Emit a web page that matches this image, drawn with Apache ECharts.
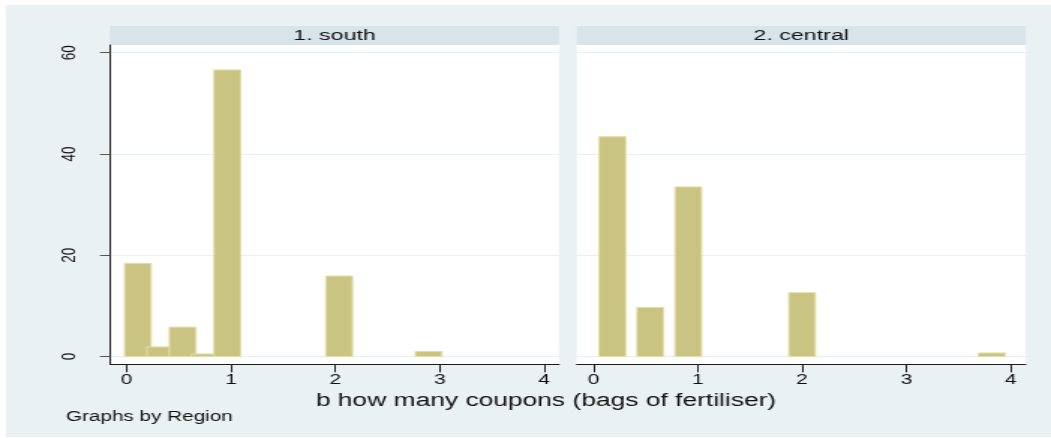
<!DOCTYPE html>
<html>
<head>
<meta charset="utf-8">
<script src="https://cdn.jsdelivr.net/npm/echarts@6/dist/echarts.min.js"></script>
<style>
  html, body { margin: 0; padding: 0; background: #fff; overflow: hidden; width: 1051px; height: 438px; }
  #wrap { width: 1051px; height: 438px; overflow: hidden; }
  /* The graph is laid out at a narrower width and stretched horizontally,
     which gives the wide lettering of the exported figure. */
  #chart { width: 701px; height: 438px; transform: scaleX(1.49929); transform-origin: 0 0; }
</style>
</head>
<body>
<div id="wrap"><div id="chart"></div></div>
<script>
// Panel titles (by Region)
const panelTitles = ['1. south', '2. central'];

// Histogram bins: midpoints (bags of fertiliser) and percent of households
const southMid = [0.107, 0.321, 0.536, 0.750, 0.964, 2.036, 2.893];
const southPct = [18.4, 1.9, 5.8, 0.5, 56.6, 15.9, 1.0];

const centralMid = [0.182, 0.545, 0.909, 2.000, 3.818];
const centralPct = [43.4, 9.7, 33.5, 12.6, 0.7];

// Axis ticks
const xTicks = [0, 1, 2, 3, 4];
const yTicks = [0, 20, 40, 60];

const xTitle = 'b how many coupons (bags of fertiliser)';
const noteText = 'Graphs by Region';

// ---- layout helpers (page pixels -> chart pixels before the stretch) ----
const S = 1051 / 701;
const ux = v => v / S;

const FONT = '"Liberation Sans", Arial, Helvetica, sans-serif';
const BAR_W = 0.255;          // drawn bar width in x units
const BAR_FILL = '#cac482';
const BAR_EDGE = '#e3dea8';
const GRID_LINE = '#e9f0f1';
const AXIS_COLOR = '#1c1c1c';

const panels = [
  { left: 110, width: 449 },
  { left: 576.7, width: 449 }
];
const PLOT_TOP = 45;
const PLOT_H = 319.3;
const HEAD_TOP = 26;
const HEAD_H = 19;

const chart = echarts.init(document.getElementById('chart'), null, { renderer: 'canvas' });

function barSeries(mid, pct, idx) {
  return {
    type: 'custom',
    xAxisIndex: idx,
    yAxisIndex: idx,
    data: mid.map((m, i) => [m, pct[i]]),
    renderItem: function (params, api) {
      const c = api.value(0);
      const h = api.value(1);
      const p0 = api.coord([c - BAR_W / 2, h]);
      const p1 = api.coord([c + BAR_W / 2, 0]);
      return {
        type: 'rect',
        shape: { x: p0[0], y: p0[1], width: p1[0] - p0[0], height: p1[1] - p0[1] },
        style: { fill: BAR_FILL, stroke: BAR_EDGE, lineWidth: 1 }
      };
    },
    silent: true,
    animation: false
  };
}

const grids = panels.map(p => ({
  left: ux(p.left),
  width: ux(p.width),
  top: PLOT_TOP,
  height: PLOT_H,
  show: true,
  backgroundColor: '#ffffff',
  borderWidth: 0
}));

const xAxes = panels.map((p, i) => ({
  type: 'value',
  gridIndex: i,
  min: -0.16,
  max: 4.143,
  axisLine: { show: true, onZero: false, lineStyle: { color: AXIS_COLOR, width: 1 } },
  axisTick: { show: true, length: 8, customValues: xTicks, lineStyle: { color: AXIS_COLOR } },
  axisLabel: { show: true, customValues: xTicks, margin: 9, fontSize: 14, fontFamily: FONT, color: '#111' },
  splitLine: { show: false }
}));

const yAxes = panels.map((p, i) => ({
  type: 'value',
  gridIndex: i,
  min: -1.54,
  max: 61.52,
  axisLine: { show: i === 0, onZero: false, lineStyle: { color: AXIS_COLOR, width: 1 } },
  axisTick: { show: i === 0, length: ux(10), customValues: yTicks, lineStyle: { color: '#555' } },
  axisLabel: {
    show: i === 0, customValues: yTicks, rotate: 90, margin: 20,
    fontSize: 13.5, fontFamily: FONT, color: '#111'
  },
  splitLine: { show: true, lineStyle: { color: GRID_LINE, width: 1 } }
}));

const graphics = [
  {
    type: 'rect', z: -100, silent: true,
    shape: { x: ux(6), y: 5, width: ux(1051 - 6), height: 432 },
    style: { fill: '#e9f1f3' }
  }
];
panels.forEach((p, i) => {
  graphics.push({
    type: 'rect', z: -50, silent: true,
    shape: { x: ux(p.left), y: HEAD_TOP, width: ux(p.width), height: HEAD_H },
    style: { fill: '#d8e4ea' }
  });
  graphics.push({
    type: 'text', silent: true,
    x: ux(p.left + p.width / 2), y: HEAD_TOP + HEAD_H / 2 + 0.5,
    style: {
      text: panelTitles[i], fontSize: 15.5, fontFamily: FONT, fill: '#111',
      textAlign: 'center', textVerticalAlign: 'middle'
    }
  });
});
graphics.push({
  type: 'text', silent: true,
  x: ux(546), y: 401,
  style: {
    text: xTitle, fontSize: 17.6, fontFamily: FONT, fill: '#111',
    textAlign: 'center', textVerticalAlign: 'middle'
  }
});
graphics.push({
  type: 'text', silent: true,
  x: ux(66), y: 417,
  style: {
    text: noteText, fontSize: 13.8, fontFamily: FONT, fill: '#111',
    textAlign: 'left', textVerticalAlign: 'middle'
  }
});

chart.setOption({
  animation: false,
  backgroundColor: '#ffffff',
  grid: grids,
  xAxis: xAxes,
  yAxis: yAxes,
  graphic: graphics,
  series: [
    barSeries(southMid, southPct, 0),
    barSeries(centralMid, centralPct, 1)
  ]
});
</script>
</body>
</html>
